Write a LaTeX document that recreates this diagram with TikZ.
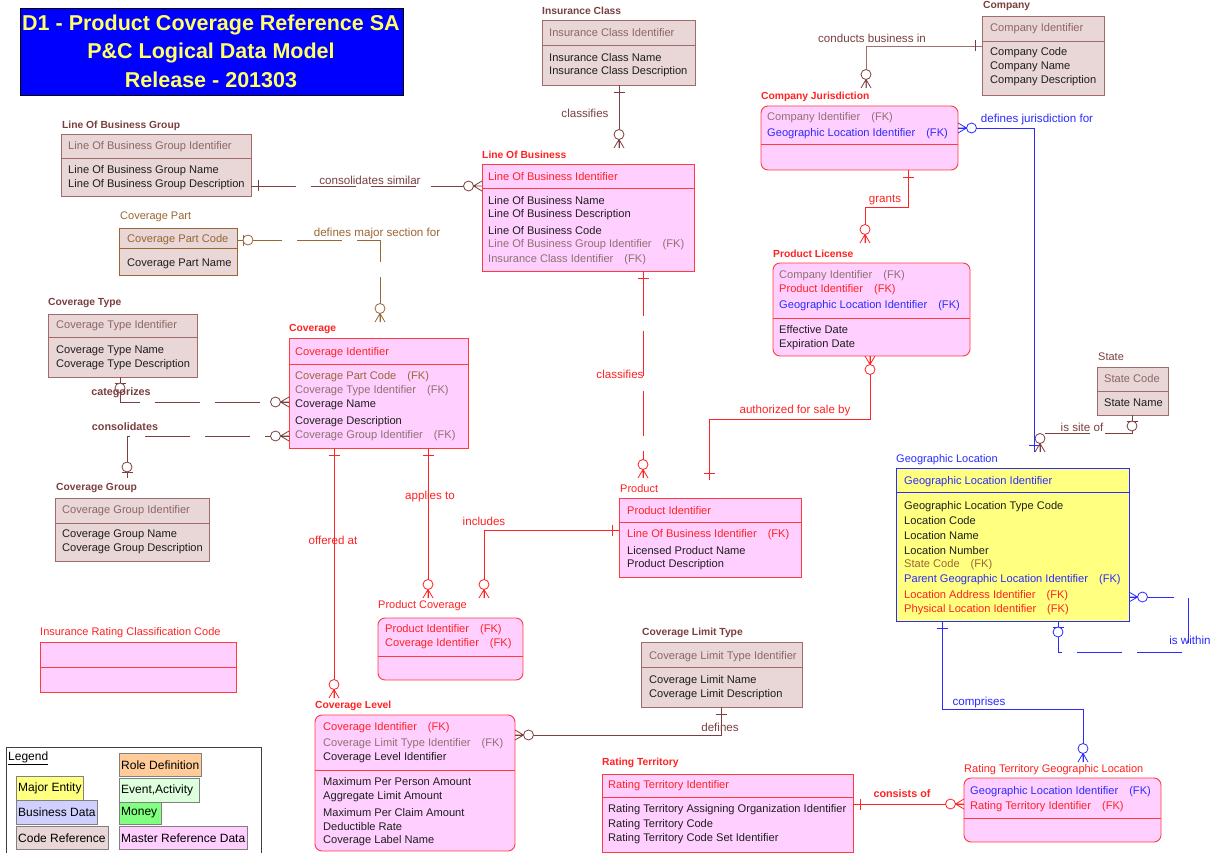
\documentclass[tikz,border=0pt]{standalone}
\usepackage{fontspec}
\setmainfont{Liberation Sans}
\definecolor{refFill}{HTML}{E9D6D6}
\definecolor{refLine}{HTML}{A26B6B}
\definecolor{refHead}{HTML}{8E6666}
\definecolor{maroonc}{HTML}{7B3F3F}
\definecolor{maroonl}{HTML}{A07070}
\definecolor{mrdFill}{HTML}{FFD0FF}
\definecolor{mrdLine}{HTML}{FF3B3B}
\definecolor{redc}{HTML}{FF2222}
\definecolor{bluec}{HTML}{2B2BFF}
\definecolor{brownc}{HTML}{9A6634}
\definecolor{fkgray}{HTML}{8F7070}
\definecolor{bodyc}{HTML}{1E1E1E}
\definecolor{gelFill}{HTML}{FFFF80}
\definecolor{titleblue}{HTML}{0000FF}
\definecolor{titleyellow}{HTML}{FFFF66}
\definecolor{legLav}{HTML}{D0D0FF}
\definecolor{legOrange}{HTML}{FFCC99}
\definecolor{legEvent}{HTML}{DDFFDD}
\definecolor{legMoney}{HTML}{80FF80}
\newcommand\fkx{\hspace{11pt}(FK)}
\newcommand\erow[4]{\node[etxt,text=#3] at (#1,#2) {#4};}
\tikzset{
 ebox/.style={draw, anchor=north west, inner sep=0pt, outer sep=0pt, line width=0.9pt},
 refbox/.style={ebox, draw=refLine, fill=refFill},
 cpbox/.style={ebox, draw=brownc, fill=refFill},
 mrdbox/.style={ebox, draw=mrdLine, fill=mrdFill},
 depbox/.style={mrdbox, rounded corners=7pt},
 geobox/.style={ebox, draw=bluec, fill=gelFill},
 etxt/.style={anchor=west, inner sep=0pt, font=\fontsize{11.1}{12}\selectfont, text=bodyc},
 elabel/.style={anchor=west, inner sep=0pt, font=\bfseries\fontsize{10.3}{12}\selectfont},
 elabeln/.style={anchor=west, inner sep=0pt, font=\fontsize{11}{12}\selectfont},
 rlabel/.style={inner sep=0pt, font=\fontsize{11.6}{12}\selectfont},
 rlabelb/.style={inner sep=0pt, font=\bfseries\fontsize{10.8}{12}\selectfont},
 relline/.style={line width=0.8pt},
 reldash/.style={line width=0.8pt, dash pattern=on 45pt off 15pt},
 divline/.style={line width=0.9pt},
 legitem/.style={draw=gray, line width=0.8pt, anchor=north west, inner sep=0pt, outer sep=0pt},
 legtxt/.style={anchor=west, inner sep=0pt, font=\fontsize{12}{13}\selectfont, text=black},
 pics/zmany/.style={code={\draw[line width=0.8pt] (0pt,-5pt)--(8.5pt,0pt)--(0pt,5pt) (0pt,0pt)--(8.5pt,0pt); \draw[line width=0.8pt,fill=white] (13.5pt,0pt) circle (5pt);}},
 pics/zone/.style={code={\draw[line width=0.8pt] (6pt,-5.5pt)--(6pt,5.5pt); \draw[line width=0.8pt,fill=white] (11pt,0pt) circle (5pt);}},
 pics/one/.style={code={\draw[line width=0.8pt] (7pt,-5.5pt)--(7pt,5.5pt);}}
}
\begin{document}
\begin{tikzpicture}[x=1pt,y=-1pt]
\useasboundingbox (0,0) rectangle (1215,853);
\fill[white] (0,0) rectangle (1215,853);

% ---------- title ----------
\node[draw=black, fill=titleblue, line width=0.9pt, anchor=north west, minimum width=383pt, minimum height=87pt, inner sep=0pt] (title) at (20,8) {};
\node[text=titleyellow, font=\bfseries\fontsize{21.5}{24}\selectfont, inner sep=0pt] (t1) at (211,25) {D1 - Product Coverage Reference SA};
\node[text=titleyellow, font=\bfseries\fontsize{21.5}{24}\selectfont, inner sep=0pt] (t2) at (211,53) {P\&C Logical Data Model};
\node[text=titleyellow, font=\bfseries\fontsize{21.5}{24}\selectfont, inner sep=0pt] (t3) at (211,80) {Release - 201303};

% ---------- Insurance Class ----------
\node[elabel, text=maroonc] (icl) at (542,11) {Insurance Class};
\node[refbox, minimum width=153pt, minimum height=65pt] (ic) at (542,20) {};
\draw[divline, refLine] (ic.west |- 0,45) -- (ic.east |- 0,45);
\erow{549}{33}{refHead}{Insurance Class Identifier}
\erow{549}{58}{bodyc}{Insurance Class Name}
\erow{549}{72}{bodyc}{Insurance Class Description}

% ---------- Company ----------
\node[elabel, text=maroonc] (compl) at (983,6) {Company};
\node[refbox, minimum width=122pt, minimum height=79pt] (comp) at (982,16) {};
\draw[divline, refLine] (comp.west |- 0,41) -- (comp.east |- 0,41);
\begin{scope}
\clip (984,17) rectangle (1102,94);
\erow{990}{29}{refHead}{Company Identifier}
\erow{990}{53}{bodyc}{Company Code}
\erow{990}{67}{bodyc}{Company Name}
\erow{990}{81}{bodyc}{Company Description}
\end{scope}

% ---------- Line Of Business Group ----------
\node[elabel, text=maroonc] (lobgl) at (62,126) {Line Of Business Group};
\node[refbox, minimum width=190pt, minimum height=62pt] (lobg) at (61,134) {};
\draw[divline, refLine] (lobg.west |- 0,158) -- (lobg.east |- 0,158);
\begin{scope}
\clip (62,135) rectangle (249,195);
\erow{68}{147}{refHead}{Line Of Business Group Identifier}
\erow{68}{171}{bodyc}{Line Of Business Group Name}
\erow{68}{185}{bodyc}{Line Of Business Group Description}
\end{scope}

% ---------- Coverage Part ----------
\node[elabeln, text=brownc] (cpl) at (120,217) {Coverage Part};
\node[cpbox, minimum width=118pt, minimum height=47pt] (cp) at (119,228) {};
\draw[divline, brownc] (cp.west |- 0,248) -- (cp.east |- 0,248);
\begin{scope}
\clip (120,229) rectangle (236,274);
\erow{127}{240}{brownc}{Coverage Part Code}
\erow{127}{264}{bodyc}{Coverage Part Name}
\end{scope}

% ---------- Line Of Business ----------
\node[elabel, text=redc] (lobl) at (482,155) {Line Of Business};
\node[mrdbox, minimum width=212pt, minimum height=107pt] (lob) at (482,164) {};
\draw[divline, mrdLine] (lob.west |- 0,188) -- (lob.east |- 0,188);
\erow{488}{177}{redc}{Line Of Business Identifier}
\erow{488}{201}{bodyc}{Line Of Business Name}
\erow{488}{215}{bodyc}{Line Of Business Description}
\erow{488}{231}{bodyc}{Line Of Business Code}
\erow{488}{245}{fkgray}{Line Of Business Group Identifier\fkx}
\erow{488}{260}{fkgray}{Insurance Class Identifier\fkx}

% ---------- Company Jurisdiction ----------
\node[elabel, text=redc] (cjl) at (761,97) {Company Jurisdiction};
\node[depbox, minimum width=197pt, minimum height=64pt] (cj) at (761,106) {};
\draw[divline, mrdLine] (cj.west |- 0,144) -- (cj.east |- 0,144);
\erow{767}{118}{fkgray}{Company Identifier\fkx}
\erow{767}{134}{bluec}{Geographic Location Identifier\fkx}

% ---------- Product License ----------
\node[elabel, text=redc] (pll) at (773,254) {Product License};
\node[depbox, minimum width=197pt, minimum height=93pt] (pl) at (773,263) {};
\draw[divline, mrdLine] (pl.west |- 0,318) -- (pl.east |- 0,318);
\erow{779}{276}{fkgray}{Company Identifier\fkx}
\erow{779}{290}{redc}{Product Identifier\fkx}
\erow{779}{306}{bluec}{Geographic Location Identifier\fkx}
\erow{779}{330}{bodyc}{Effective Date}
\erow{779}{345}{bodyc}{Expiration Date}

% ---------- Coverage Type ----------
\node[elabel, text=maroonc] (ctl) at (48,303) {Coverage Type};
\node[refbox, minimum width=149pt, minimum height=63pt] (ct) at (48,314) {};
\draw[divline, refLine] (ct.west |- 0,337) -- (ct.east |- 0,337);
\erow{56}{326}{refHead}{Coverage Type Identifier}
\erow{56}{351}{bodyc}{Coverage Type Name}
\erow{56}{365}{bodyc}{Coverage Type Description}

% ---------- Coverage ----------
\node[elabel, text=redc] (covl) at (289,329) {Coverage};
\node[mrdbox, minimum width=179pt, minimum height=110pt] (cov) at (289,338) {};
\draw[divline, mrdLine] (cov.west |- 0,364) -- (cov.east |- 0,364);
\erow{295}{353}{redc}{Coverage Identifier}
\erow{295}{377}{brownc}{Coverage Part Code\fkx}
\erow{295}{391}{fkgray}{Coverage Type Identifier\fkx}
\erow{295}{405}{bodyc}{Coverage Name}
\erow{295}{422}{bodyc}{Coverage Description}
\erow{295}{436}{fkgray}{Coverage Group Identifier\fkx}

% ---------- State ----------
\node[elabeln, text=maroonc] (stl) at (1098,357) {State};
\node[refbox, minimum width=71pt, minimum height=48pt] (st) at (1097,367) {};
\draw[divline, refLine] (st.west |- 0,391) -- (st.east |- 0,391);
\begin{scope}
\clip (1098,368) rectangle (1166,414);
\erow{1104}{379}{refHead}{State Code}
\erow{1104}{403}{bodyc}{State Name}
\end{scope}

% ---------- Coverage Group ----------
\node[elabel, text=maroonc] (cgl) at (56,488) {Coverage Group};
\node[refbox, minimum width=154pt, minimum height=63pt] (cg) at (55,498) {};
\draw[divline, refLine] (cg.west |- 0,523) -- (cg.east |- 0,523);
\erow{62}{511}{refHead}{Coverage Group Identifier}
\erow{62}{535}{bodyc}{Coverage Group Name}
\erow{62}{549}{bodyc}{Coverage Group Description}

% ---------- Product ----------
\node[elabeln, text=redc] (prodl) at (620,489) {Product};
\node[mrdbox, minimum width=182pt, minimum height=79pt] (prod) at (619,498) {};
\draw[divline, mrdLine] (prod.west |- 0,522) -- (prod.east |- 0,522);
\erow{627}{511}{redc}{Product Identifier}
\erow{627}{535}{redc}{Line Of Business Identifier\fkx}
\erow{627}{551}{bodyc}{Licensed Product Name}
\erow{627}{565}{bodyc}{Product Description}

% ---------- Geographic Location ----------
\node[elabeln, text=bluec] (gll) at (896,460) {Geographic Location};
\node[geobox, minimum width=233pt, minimum height=153pt] (gl) at (896,468) {};
\draw[divline, bluec] (gl.west |- 0,492) -- (gl.east |- 0,492);
\erow{904}{482}{bluec}{Geographic Location Identifier}
\erow{904}{507}{bodyc}{Geographic Location Type Code}
\erow{904}{521}{bodyc}{Location Code}
\erow{904}{536}{bodyc}{Location Name}
\erow{904}{551}{bodyc}{Location Number}
\erow{904}{565}{brownc}{State Code\fkx}
\erow{904}{580}{bluec}{Parent Geographic Location Identifier\fkx}
\erow{904}{596}{redc}{Location Address Identifier\fkx}
\erow{904}{610}{redc}{Physical Location Identifier\fkx}

% ---------- Product Coverage ----------
\node[elabeln, text=redc] (pcl) at (378,606) {Product Coverage};
\node[depbox, minimum width=145pt, minimum height=62pt] (pc) at (378,618) {};
\draw[divline, mrdLine] (pc.west |- 0,656) -- (pc.east |- 0,656);
\erow{385}{630}{redc}{Product Identifier\fkx}
\erow{385}{644}{redc}{Coverage Identifier\fkx}

% ---------- Insurance Rating Classification Code ----------
\node[elabeln, text=redc] (ircl) at (40,633) {Insurance Rating Classification Code};
\node[mrdbox, minimum width=196pt, minimum height=50pt] (irc) at (40,642) {};
\draw[divline, mrdLine] (irc.west |- 0,667) -- (irc.east |- 0,667);

% ---------- Coverage Limit Type ----------
\node[elabel, text=maroonc] (cltl) at (642,633) {Coverage Limit Type};
\node[refbox, minimum width=161pt, minimum height=65pt] (clt) at (641,642) {};
\draw[divline, refLine] (clt.west |- 0,667) -- (clt.east |- 0,667);
\begin{scope}
\clip (642,643) rectangle (800,706);
\erow{649}{657}{refHead}{Coverage Limit Type Identifier}
\erow{649}{681}{bodyc}{Coverage Limit Name}
\erow{649}{695}{bodyc}{Coverage Limit Description}
\end{scope}

% ---------- Coverage Level ----------
\node[elabel, text=redc] (cll) at (315,706) {Coverage Level};
\node[depbox, minimum width=200pt, minimum height=136pt] (cl) at (315,715) {};
\draw[divline, mrdLine] (cl.west |- 0,770) -- (cl.east |- 0,770);
\erow{323}{728}{redc}{Coverage Identifier\fkx}
\erow{323}{744}{fkgray}{Coverage Limit Type Identifier\fkx}
\erow{323}{758}{bodyc}{Coverage Level Identifier}
\erow{323}{782}{bodyc}{Maximum Per Person Amount}
\erow{323}{797}{bodyc}{Aggregate Limit Amount}
\erow{323}{813}{bodyc}{Maximum Per Claim Amount}
\erow{323}{827}{bodyc}{Deductible Rate}
\erow{323}{841}{bodyc}{Coverage Label Name}

% ---------- Rating Territory ----------
\node[elabel, text=redc] (rtl) at (602,763) {Rating Territory};
\node[mrdbox, minimum width=251pt, minimum height=78pt] (rt) at (602,774) {};
\draw[divline, mrdLine] (rt.west |- 0,797) -- (rt.east |- 0,797);
\begin{scope}
\clip (603,775) rectangle (847,851);
\erow{608}{786}{redc}{Rating Territory Identifier}
\erow{608}{810}{bodyc}{Rating Territory Assigning Organization Identifier}
\erow{608}{825}{bodyc}{Rating Territory Code}
\erow{608}{839}{bodyc}{Rating Territory Code Set Identifier}
\end{scope}

% ---------- Rating Territory Geographic Location ----------
\node[elabeln, text=redc] (rtgll) at (964,770) {Rating Territory Geographic Location};
\node[depbox, minimum width=197pt, minimum height=64pt] (rtgl) at (964,778) {};
\draw[divline, mrdLine] (rtgl.west |- 0,818) -- (rtgl.east |- 0,818);
\erow{970}{792}{bluec}{Geographic Location Identifier\fkx}
\erow{970}{807}{redc}{Rating Territory Identifier\fkx}

% ---------- Legend ----------
\node[draw=black!75, line width=0.8pt, anchor=north west, minimum width=255pt, minimum height=110pt, inner sep=0pt] (leg) at (6,747) {};
\node[legtxt] (legt) at (8,758) {\underline{Legend}};
\node[legitem, fill=gelFill, minimum width=67pt, minimum height=24pt] (lg1) at (16,776) {};
\node[legtxt] at (18,788) {Major Entity};
\node[legitem, fill=legLav, minimum width=81pt, minimum height=24pt] (lg2) at (16,800) {};
\node[legtxt] at (18,812) {Business Data};
\node[legitem, fill=refFill, minimum width=92pt, minimum height=23pt] (lg3) at (16,826) {};
\node[legtxt] at (18,838) {Code Reference};
\node[legitem, fill=legOrange, minimum width=82pt, minimum height=23pt] (lg4) at (119,753) {};
\node[legtxt] at (121,765) {Role Definition};
\node[legitem, fill=legEvent, minimum width=80pt, minimum height=24pt] (lg5) at (119,778) {};
\node[legtxt] at (121,790) {Event,Activity};
\node[legitem, fill=legMoney, minimum width=42pt, minimum height=22pt] (lg6) at (119,802) {};
\node[legtxt] at (121,813) {Money};
\node[legitem, fill=mrdFill, minimum width=128pt, minimum height=23pt] (lg7) at (119,826) {};
\begin{scope}
\clip (120,827) rectangle (246,848);
\node[legtxt] at (121,838) {Master Reference Data};
\end{scope}

% ================= relationships =================
% Insurance Class -> Line Of Business
\begin{scope}[color=maroonc]
\coordinate (e1) at (619,148);
\draw[relline] (ic.south -| e1) -- (e1);
\pic[rotate=-90] at (ic.south -| e1) {one};
\pic[rotate=90] at (e1) {zmany};
\node[rlabel] at (585,113) {classifies};
\end{scope}

% Line Of Business Group -> Line Of Business
\begin{scope}[color=maroonc]
\draw[reldash] (lobg.east |- 0,186) -- (lob.west |- 0,186);
\pic at (lobg.east |- 0,186) {one};
\pic[rotate=180] at (lob.west |- 0,186) {zmany};
\node[rlabel] at (370,180) {consolidates similar};
\end{scope}

% Coverage Part -> Coverage
\begin{scope}[color=brownc]
\coordinate (e3) at (380,322);
\draw[reldash] (cp.east |- 0,240) -- (380,240) -- (e3);
\pic at (cp.east |- 0,240) {zone};
\pic[rotate=90] at (e3) {zmany};
\node[rlabel] at (377,234) {defines major section for};
\end{scope}

% Coverage Type -> Coverage
\begin{scope}[color=maroonc]
\draw[reldash] (ct.south -| 120,0) -- (120,402) -- (cov.west |- 0,402);
\pic[rotate=-90] at (ct.south -| 120,0) {zone};
\pic[rotate=180] at (cov.west |- 0,402) {zmany};
\node[rlabelb] at (121,393) {categorizes};
\end{scope}

% Coverage Group -> Coverage
\begin{scope}[color=maroonc]
\coordinate (e5) at (127,478);
\draw[reldash] (e5) -- (127,436) -- (cov.west |- 0,436);
\pic[rotate=90] at (e5) {zone};
\pic[rotate=180] at (cov.west |- 0,436) {zmany};
\node[rlabelb] at (125,427) {consolidates};
\end{scope}

% Coverage -> Coverage Level
\begin{scope}[color=redc]
\coordinate (e6) at (334,698);
\draw[relline] (cov.south -| e6) -- (e6);
\pic[rotate=-90] at (cov.south -| e6) {one};
\pic[rotate=90] at (e6) {zmany};
\node[rlabel] at (333,540) {offered at};
\end{scope}

% Coverage -> Product Coverage
\begin{scope}[color=redc]
\coordinate (e7) at (428,598);
\draw[relline] (cov.south -| e7) -- (e7);
\pic[rotate=-90] at (cov.south -| e7) {one};
\pic[rotate=90] at (e7) {zmany};
\node[rlabel] at (430,496) {applies to};
\end{scope}

% Product -> Product Coverage
\begin{scope}[color=redc]
\coordinate (e8) at (484,598);
\draw[relline] (prod.west |- 0,530) -- (484,530) -- (e8);
\pic[rotate=180] at (prod.west |- 0,530) {one};
\pic[rotate=90] at (e8) {zmany};
\node[rlabel] at (484,521) {includes};
\end{scope}

% Line Of Business -> Product
\begin{scope}[color=redc]
\coordinate (e9) at (643,478);
\draw[reldash] (lob.south -| e9) -- (e9);
\pic[rotate=-90] at (lob.south -| e9) {one};
\pic[rotate=90] at (e9) {zmany};
\node[rlabel] at (620,374) {classifies};
\end{scope}

% Product License -> Product
\begin{scope}[color=redc]
\coordinate (e10) at (709,480);
\draw[relline] (pl.south -| 870,0) -- (870,419) -- (709,419) -- (e10);
\pic[rotate=-90] at (pl.south -| 870,0) {zmany};
\pic[rotate=90] at (e10) {one};
\node[rlabel] at (795,410) {authorized for sale by};
\end{scope}

% Company Jurisdiction -> Product License
\begin{scope}[color=redc]
\coordinate (e11) at (865,243);
\draw[relline] (cj.south -| 908,0) -- (908,207) -- (865,207) -- (e11);
\pic[rotate=-90] at (cj.south -| 908,0) {one};
\pic[rotate=90] at (e11) {zmany};
\node[rlabel] at (885,200) {grants};
\end{scope}

% Company -> Company Jurisdiction
\begin{scope}[color=maroonc]
\coordinate (e12) at (866,88);
\draw[relline, maroonl] (comp.west |- 0,46) -- (866,46) -- (e12);
\pic[rotate=180] at (comp.west |- 0,46) {one};
\pic[rotate=90] at (e12) {zmany};
\node[rlabel] at (872,38) {conducts business in};
\end{scope}

% Geographic Location -> Company Jurisdiction
\begin{scope}[color=bluec]
\coordinate (e13) at (1034,452);
\draw[relline] (cj.east |- 0,128) -- (1034,128) -- (e13);
\pic at (cj.east |- 0,128) {zmany};
\pic[rotate=90] at (e13) {one};
\node[rlabel] at (1037,120) {defines jurisdiction for};
\end{scope}

% State -> Geographic Location
\begin{scope}[color=maroonc]
\coordinate (e14) at (1040,452);
\draw[reldash] (st.south -| 1132,0) -- (1132,433) -- (1040,433) -- (e14);
\pic[rotate=-90] at (st.south -| 1132,0) {zone};
\pic[rotate=90] at (e14) {zmany};
\node[rlabel] at (1082,427) {is site of};
\end{scope}

% Geographic Location is within Geographic Location
\begin{scope}[color=bluec]
\draw[reldash] (gl.east |- 0,597) -- (1188,597) -- (1188,652) -- (1058,652) -- (gl.south -| 1058,0);
\pic at (gl.east |- 0,597) {zmany};
\pic[rotate=-90] at (gl.south -| 1058,0) {zone};
\node[rlabel] at (1190,640) {is within};
\end{scope}

% Geographic Location -> Rating Territory Geographic Location
\begin{scope}[color=bluec]
\coordinate (e16) at (1083,762);
\draw[relline] (gl.south -| 942,0) -- (942,709) -- (1083,709) -- (e16);
\pic[rotate=-90] at (gl.south -| 942,0) {one};
\pic[rotate=90] at (e16) {zmany};
\node[rlabel] at (979,702) {comprises};
\end{scope}

% Rating Territory -> Rating Territory Geographic Location
\begin{scope}[color=redc]
\draw[relline] (rt.east |- 0,804) -- (rtgl.west |- 0,804);
\pic at (rt.east |- 0,804) {one};
\pic[rotate=180] at (rtgl.west |- 0,804) {zmany};
\node[rlabelb] at (902,794) {consists of};
\end{scope}

% Coverage Limit Type -> Coverage Level
\begin{scope}[color=maroonc]
\draw[relline] (clt.south -| 721,0) -- (721,735) -- (cl.east |- 0,735);
\pic[rotate=-90] at (clt.south -| 721,0) {one};
\pic at (cl.east |- 0,735) {zmany};
\node[rlabel] at (720,727) {defines};
\end{scope}

\end{tikzpicture}
\end{document}
